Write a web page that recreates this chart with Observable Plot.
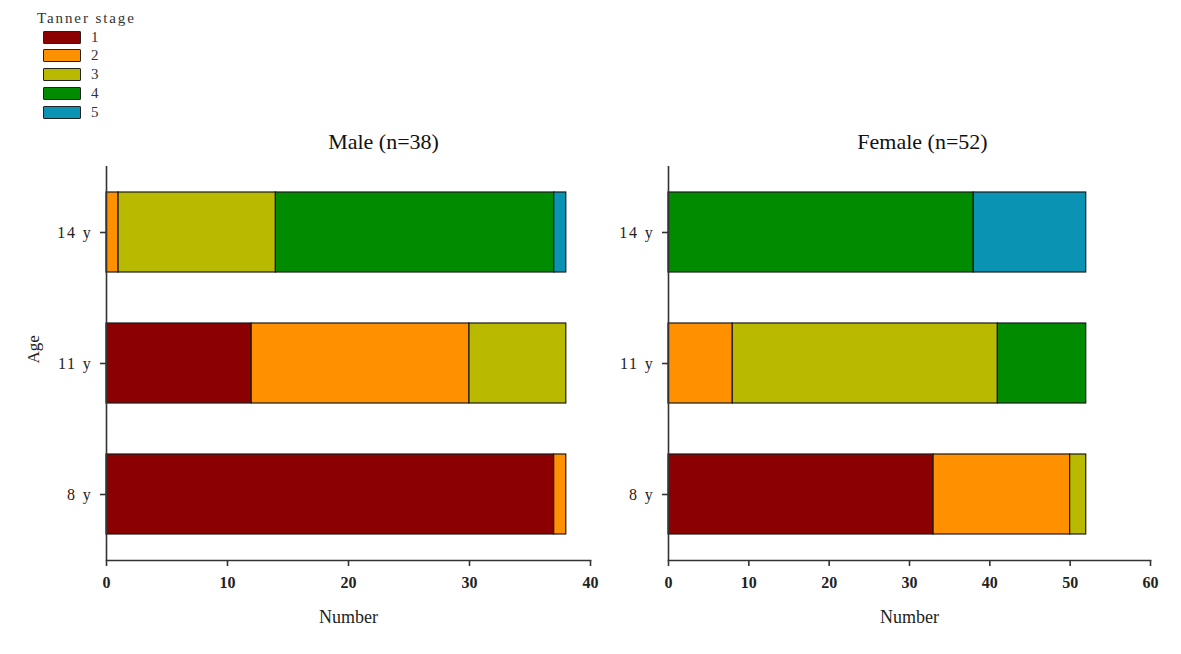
<!DOCTYPE html>
<html>
<head>
<meta charset="utf-8">
<script src="https://cdn.jsdelivr.net/npm/d3@7"></script>
<script src="https://cdn.jsdelivr.net/npm/@observablehq/plot@0.6"></script>
<style>
  html, body { margin: 0; padding: 0; background: #fff; }
  #wrap { position: relative; width: 1181px; height: 654px; font-family: "Liberation Serif", serif; color: #222; }
  .panel { position: absolute; top: 0; }
  .legend { position: absolute; left: 37px; top: 10px; font-size: 15px; }
  .legend .ttl { letter-spacing: 1.9px; height: 17px; line-height: 17px; color: #333; }
  .legend .row { position: absolute; left: 6px; height: 19px; display: flex; align-items: center; }
  .legend .sw { width: 38px; height: 13px; border: 1.5px solid #222; box-sizing: border-box; border-radius: 1px; }
  .legend .lb { margin-left: 10px; font-size: 15px; line-height: 15px; color: #333; }
  svg g[aria-label="y-axis tick label"] text { letter-spacing: 1.8px; }
  svg g[aria-label="x-axis tick label"] text { font-weight: bold; }
</style>
</head>
<body>
<div id="wrap"></div>
<script>
// ---- data ----
const ages = ["14 y", "11 y", "8 y"];
const stages = ["1", "2", "3", "4", "5"];
const stageColors = ["#8b0000", "#ff9000", "#b9b900", "#008b00", "#0b93b3"];
// counts per age (rows: 14 y, 11 y, 8 y), columns: stage 1..5
const maleCounts = [
  [0, 1, 13, 23, 1],
  [12, 18, 8, 0, 0],
  [37, 1, 0, 0, 0]
];
const femaleCounts = [
  [0, 0, 0, 38, 14],
  [0, 8, 33, 11, 0],
  [33, 17, 2, 0, 0]
];
const maleTicks = [0, 10, 20, 30, 40];
const femaleTicks = [0, 10, 20, 30, 40, 50, 60];
const panelTitles = ["Male (n=38)", "Female (n=52)"];

function rows(counts) {
  const out = [];
  counts.forEach((r, i) => r.forEach((n, j) => { if (n > 0) out.push({age: ages[i], stage: stages[j], n}); }));
  return out;
}

const wrap = document.getElementById("wrap");

function panel({counts, ticks, left, width, mLeft, mRight, title, titleDx, showAge}) {
  const plot = Plot.plot({
    width, height: 640,
    marginTop: 166, marginBottom: 80, marginLeft: mLeft, marginRight: mRight,
    style: {fontFamily: "Liberation Serif, serif", fontSize: "16px", color: "#222", background: "transparent"},
    x: {domain: [ticks[0], ticks[ticks.length - 1]]},
    y: {domain: ages, paddingInner: 0.39, paddingOuter: 0.195},
    color: {domain: stages, range: stageColors},
    marks: [
      Plot.barX(rows(counts), {x: "n", y: "age", fill: "stage", stroke: "#1a1a1a", strokeWidth: 1.2}),
      Plot.ruleX([0], {stroke: "#333", strokeWidth: 1.6}),
      Plot.frame({anchor: "bottom", stroke: "#333", strokeWidth: 1.6}),
      Plot.axisX({ticks, tickSize: 6, tickPadding: 10, label: null, stroke: "#333", strokeWidth: 1.6, fontSize: 16, fill: "#222"}),
      Plot.axisY({tickSize: 6, tickPadding: 8, label: null, stroke: "#333", strokeWidth: 1.6, fontSize: 16, fill: "#222"}),
      Plot.text([title], {frameAnchor: "top", dx: titleDx, dy: -25, fontSize: 22, lineAnchor: "middle", fill: "#111"}),
      Plot.text(["Number"], {frameAnchor: "bottom", dy: 57, fontSize: 18, lineAnchor: "middle", fill: "#222"}),
      showAge ? Plot.text(["Age"], {frameAnchor: "left", dx: -73, rotate: -90, fontSize: 17, lineAnchor: "middle", fill: "#222"}) : null
    ]
  });
  plot.classList.add("panel");
  plot.style.left = left + "px";
  wrap.appendChild(plot);
}

panel({counts: maleCounts, ticks: maleTicks, left: 0, width: 620, mLeft: 106, mRight: 30, title: panelTitles[0], titleDx: 35, showAge: true});
panel({counts: femaleCounts, ticks: femaleTicks, left: 560, width: 621, mLeft: 108, mRight: 31, title: panelTitles[1], titleDx: 13, showAge: false});

// legend
const lg = document.createElement("div");
lg.className = "legend";
lg.innerHTML = `<div class="ttl">Tanner stage</div>` + stages.map((s, i) =>
  `<div class="row" style="top:${17.5 + i * 18.8}px"><div class="sw" style="background:${stageColors[i]}"></div><span class="lb">${s}</span></div>`).join("");
wrap.appendChild(lg);
</script>
</body>
</html>
